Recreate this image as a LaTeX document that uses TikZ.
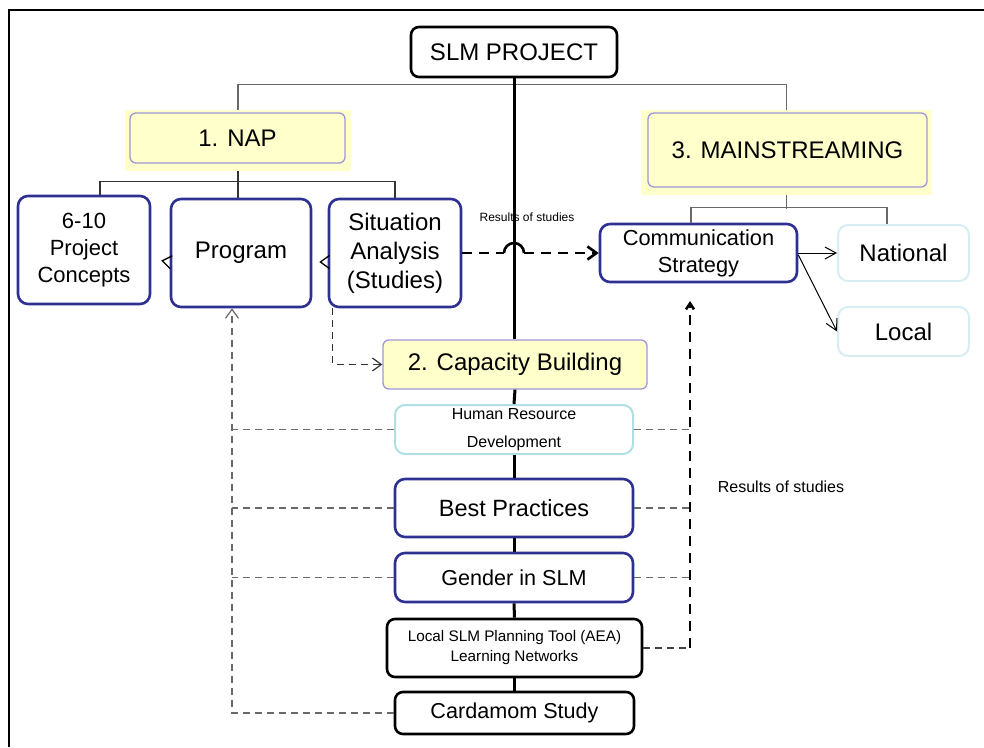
\documentclass[tikz,border=0pt]{standalone}
\usepackage{fontspec}
\setmainfont{Liberation Sans}
\usetikzlibrary{arrows.meta,positioning}

\definecolor{navy}{RGB}{46,49,146}
\definecolor{paleyellow}{RGB}{255,255,204}
\definecolor{yellowedge}{RGB}{160,150,215}
\definecolor{palecyan}{RGB}{176,222,229}
\definecolor{faintcyan}{RGB}{214,237,241}
\definecolor{linegray}{RGB}{105,105,105}

\newcommand{\fs}[2]{\fontsize{#1}{#2}\selectfont}

\begin{document}
\begin{tikzpicture}[x=1pt,y=-1pt,
    box/.style={draw,rounded corners=10pt,line width=2.6pt,inner sep=0pt,align=center,fill=white},
    bluebox/.style={box,draw=navy},
    blackbox/.style={box,draw=black,rounded corners=8pt},
    cyanbox/.style={box,draw=faintcyan,line width=2pt},
    yellowbox/.style={box,draw=yellowedge,fill=paleyellow,line width=1.3pt,rounded corners=6pt},
    glow/.style={fill=paleyellow,inner sep=0pt},
    tree/.style={draw=linegray,line width=1.2pt},
    spine/.style={line width=3pt},
    feed/.style={draw=linegray,line width=1.2pt,dash pattern=on 7pt off 5pt},
    result/.style={line width=2.6pt,dash pattern=on 10pt off 7pt},
    tip/.style={-{Straight Barb[length=9pt,width=13pt]}},
    smalltip/.style={-{Straight Barb[length=9pt,width=13pt]}},
    link/.style={line width=1pt,-{Straight Barb[length=11pt,width=12pt]}},
    gap/.style={line width=1.3pt,dash pattern=on 0pt off 60pt,smalltip},
]
\useasboundingbox (0,0) rectangle (984,747);

% frame
\draw[line width=2pt] (9,747) -- (9,10) -- (984,10);

% top of the tree
\node[blackbox,minimum width=206,minimum height=50,font=\fs{24}{28}] (slm) at (514,52) {SLM PROJECT};

\node[glow,minimum width=226,minimum height=61] (napglow) at (238,140.5) {};
\node[yellowbox,minimum width=215,minimum height=50,font=\fs{24}{28}] (nap) at (237.5,138) {1. NAP};

\node[glow,minimum width=291,minimum height=85] (mainglow) at (786.5,152.5) {};
\node[yellowbox,minimum width=279,minimum height=74,font=\fs{24}{28}] (main) at (787.5,150) {3. MAINSTREAMING};

% NAP branch
\node[bluebox,minimum width=132,minimum height=108,font=\fs{22}{27}] (concepts) at (84,250) {6-10\\Project\\Concepts};
\node[bluebox,minimum width=140,minimum height=108,font=\fs{24}{28}] (prog) at (241,253) {Program};
\node[bluebox,minimum width=132,minimum height=108,font=\fs{24}{29}] (sit) at (395,253) {Situation\\Analysis\\(Studies)};

% mainstreaming branch
\node[bluebox,minimum width=197,minimum height=58,font=\fs{21.8}{27}] (comm) at (698.5,253) {Communication\\Strategy};
\node[cyanbox,minimum width=131,minimum height=56,font=\fs{24}{28}] (nat) at (903.5,253) {National};
\node[cyanbox,minimum width=131,minimum height=49,font=\fs{24}{28}] (loc) at (903.5,331.5) {Local};

% capacity building column
\node[yellowbox,minimum width=264,minimum height=49,font=\fs{24}{28}] (cap) at (515,364.5) {2. Capacity Building};
\node[box,draw=palecyan,line width=2pt,minimum width=238,minimum height=49,font=\fs{16}{27.5}] (hrd) at (514,429.5) {Human Resource\\Development};
\node[bluebox,minimum width=238,minimum height=58,font=\fs{23.5}{28}] (best) at (514,508) {Best Practices};
\node[bluebox,minimum width=238,minimum height=49,font=\fs{21.6}{26}] (gender) at (514,577.5) {Gender in SLM};
\node[blackbox,minimum width=255,minimum height=58,font=\fs{15.3}{20}] (tool) at (514.5,648) {Local SLM Planning Tool (AEA)\\Learning Networks};
\node[blackbox,minimum width=239,minimum height=42,font=\fs{21.6}{26}] (card) at (514.5,713) {Cardamom Study};

\node[font=\fs{12}{14}] (res1) at (527,217) {Results of studies};
\node[font=\fs{16}{19}] (res2) at (781,487) {Results of studies};

\coordinate (lbus) at ([xshift=-9pt]prog.south);
\coordinate (rbus) at (690,301);
\coordinate (hopa) at (504,253);
\coordinate (hopb) at (524,253);

% tree lines
\draw[tree] (napglow.north) -- ++(0,-25) -| (mainglow.north);
\draw[tree,draw=black!80] (napglow.south) -- (napglow.south |- prog.north);
\draw[tree,draw=black!80] ([xshift=16pt]concepts.north) -- ++(0,-13) -| (sit.north);
\draw[tree] (mainglow.south) -- ++(0,14);
\draw[tree] ([xshift=-7.5pt]comm.north) -- ++(0,-15) -| ([xshift=-16.5pt]nat.north);

% spine
\draw[spine] (slm.south) -- (slm.south |- cap.north);
\draw[spine] (cap.south) -- (hrd.north);
\draw[spine] (hrd.south) -- (best.north);
\draw[spine] (best.south) -- (gender.north);
\draw[spine] (gender.south) -- (tool.north);
\draw[spine] (tool.south) -- (card.north);

% situation analysis to communication, hopping over the spine
\draw[result] (sit.east |- hopa) -- (hopa);
\draw[line width=2.6pt] (hopa) arc[start angle=180,end angle=0,radius=10pt];
\draw[result,tip] (hopb) -- (comm.west |- hopb);

% small arrows in the NAP row
\draw[gap,shorten >=10pt] ([yshift=-9pt]prog.west) -- ([yshift=-9pt]concepts.east);
\draw[gap,shorten >=7pt] ([yshift=-9pt]sit.west) -- ([yshift=-9pt]prog.east);
\draw[feed,draw=black!80,smalltip] ([xshift=5pt]sit.south west) |- (cap.west);

% communication outlets
\draw[link] (comm.east) -- (nat.west);
\draw[link] ([yshift=-2pt]comm.east) -- (loc.west);

% feedback into the program
\draw[feed,smalltip] (card.west) -| (lbus);
\foreach \n in {hrd,best,gender}
    \draw[feed] (\n.west) -- (\n.west -| lbus);

% results of studies up to the strategy
\draw[result,-{Straight Barb[length=6pt,width=8pt]}] (rbus |- tool.east) -- (rbus);
\draw[feed,draw=black!75] (tool.east) -- (tool.east -| rbus);
\foreach \n in {hrd,best,gender}
    \draw[feed] (\n.east) -- (\n.east -| rbus);

\end{tikzpicture}
\end{document}
